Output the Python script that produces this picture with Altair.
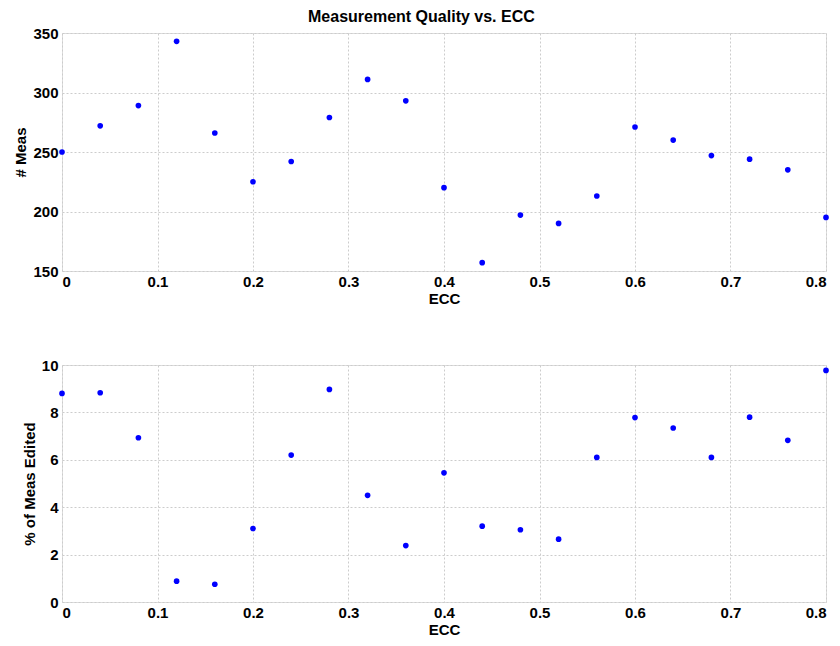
import altair as alt
import pandas as pd

ecc = [0.0, 0.04, 0.08, 0.12, 0.16, 0.20, 0.24, 0.28, 0.32, 0.36, 0.40,
       0.44, 0.48, 0.52, 0.56, 0.60, 0.64, 0.68, 0.72, 0.76, 0.80]
n_meas = [250, 272, 289, 343, 266, 225, 242, 279, 311, 293, 220,
          157, 197, 190, 213, 271, 260, 247, 244, 235, 195]
pct_edited = [8.8, 8.83, 6.93, 0.88, 0.75, 3.1, 6.2, 8.97, 4.5, 2.38, 5.45,
              3.2, 3.05, 2.65, 6.1, 7.78, 7.34, 6.1, 7.8, 6.82, 9.77]
x_ticks = [0, 0.1, 0.2, 0.3, 0.4, 0.5, 0.6, 0.7, 0.8]
y1_ticks = [150, 200, 250, 300, 350]
y2_ticks = [0, 2, 4, 6, 8, 10]

df = pd.DataFrame({"ECC": ecc, "NMeas": n_meas, "Pct": pct_edited})

FONT = "Liberation Sans"

def xaxis():
    return alt.Axis(title="ECC", values=x_ticks,
                    format=".1~f", labelFontSize=15, labelFontWeight="bold",
                    titleFontSize=15, titleFontWeight="bold", labelPadding=3,
                    titlePadding=2, ticks=False, domain=False,
                    gridDash=[2, 2], gridColor="#cccccc", labelColor="black",
                    titleColor="black", labelFont=FONT, titleFont=FONT)

def yaxis(title, vals):
    return alt.Axis(title=title, values=vals, labelFontSize=15, labelFontWeight="bold",
                    titleFontSize=15, titleFontWeight="bold", labelPadding=4,
                    titlePadding=4, ticks=False, domain=False,
                    gridDash=[2, 2], gridColor="#cccccc", labelColor="black",
                    titleColor="black", labelFont=FONT, titleFont=FONT)

top = alt.Chart(df).mark_circle(size=32, color="#0000ff", opacity=1, clip=False).encode(
    x=alt.X("ECC:Q", scale=alt.Scale(domain=[0, 0.8], nice=False), axis=xaxis()),
    y=alt.Y("NMeas:Q", scale=alt.Scale(domain=[150, 350], nice=False, zero=False),
            axis=yaxis("# Meas", y1_ticks)),
).properties(width=764, height=238)

bottom = alt.Chart(df).mark_circle(size=32, color="#0000ff", opacity=1, clip=False).encode(
    x=alt.X("ECC:Q", scale=alt.Scale(domain=[0, 0.8], nice=False), axis=xaxis()),
    y=alt.Y("Pct:Q", scale=alt.Scale(domain=[0, 10], nice=False),
            axis=yaxis("% of Meas Edited", y2_ticks)),
).properties(width=764, height=237)

chart = alt.vconcat(top, bottom, spacing=50).properties(
    title=alt.TitleParams("Measurement Quality vs. ECC", fontSize=16, fontWeight="bold",
                          font=FONT, anchor="middle", offset=-1, dy=-2, color="black"),
    padding={"left": 5, "top": 0, "right": 0, "bottom": 0},
).configure_view(stroke="#999999", strokeWidth=1).configure(background="white")

chart.save("out.html", embed_options={"renderer": "svg", "actions": False})
